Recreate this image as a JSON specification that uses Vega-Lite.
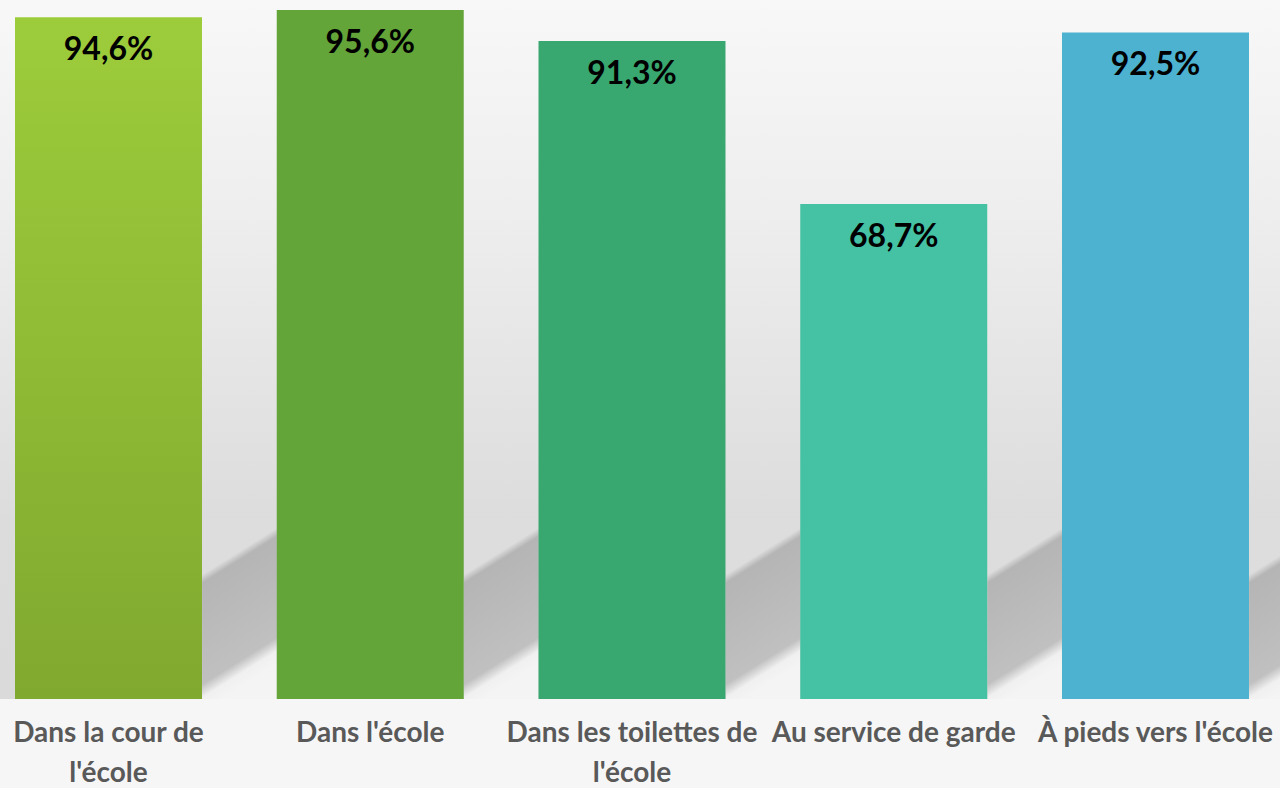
{
  "$schema": "https://vega.github.io/schema/vega-lite/v6.json",
  "width": 1280,
  "height": 699,
  "padding": {"left": 0, "top": 0, "right": 0, "bottom": 89},
  "autosize": {"type": "none"},
  "background": "#f6f6f6",
  "config": {
    "locale": {"number": {"decimal": ",", "thousands": " ", "grouping": [3], "currency": ["", " €"]}},
    "view": {"stroke": null}
  },
  "view": {
    "stroke": null,
    "fill": {
      "gradient": "linear", "x1": 0, "y1": 0, "x2": 0, "y2": 1,
      "stops": [
        {"offset": 0, "color": "#f8f8f8"},
        {"offset": 0.3, "color": "#eeeeee"},
        {"offset": 0.6, "color": "#e2e2e2"},
        {"offset": 0.75, "color": "#dcdcdc"},
        {"offset": 1, "color": "#dadada"}
      ]
    }
  },
  "data": {
    "values": [
      {"cat": "Dans la cour de|l'école", "v": 0.946},
      {"cat": "Dans l'école", "v": 0.956},
      {"cat": "Dans les toilettes de|l'école", "v": 0.913},
      {"cat": "Au service de garde", "v": 0.687},
      {"cat": "À pieds vers l'école", "v": 0.925}
    ]
  },
  "encoding": {
    "x": {
      "field": "cat", "type": "nominal", "sort": null,
      "scale": {"paddingInner": 0.2856, "paddingOuter": 0.0879, "align": 0.326},
      "axis": {
        "title": null, "ticks": false, "domain": false, "labelAngle": 0,
        "labelExpr": "split(datum.label, '|')",
        "labelFont": "Lato", "labelFontSize": 28, "labelFontWeight": "bold",
        "labelColor": "#595959", "labelLineHeight": 40, "labelPadding": 42,
        "labelBaseline": "alphabetic", "labelLimit": 0, "grid": false
      }
    }
  },
  "layer": [
    {
      "mark": {
        "type": "bar", "width": {"band": 0.4}, "xOffset": 131,
        "fill": {
          "gradient": "linear", "x1": 0, "y1": 0, "x2": 0.26, "y2": 1,
          "stops": [
            {"offset": 0, "color": "#dddddd"},
            {"offset": 0.29, "color": "#dddddd"},
            {"offset": 0.335, "color": "#b5b5b5"},
            {"offset": 0.86, "color": "#c0c0c0"},
            {"offset": 0.93, "color": "#f0f0f0"},
            {"offset": 1, "color": "#f4f4f4"}
          ]
        }
      },
      "encoding": {
        "y": {"datum": 0, "type": "quantitative", "scale": {"domain": [0, 0.97]}, "axis": null},
        "y2": {"datum": 0.25}
      }
    },
    {
      "mark": {"type": "bar"},
      "encoding": {
        "y": {"field": "v", "type": "quantitative", "scale": {"domain": [0, 0.97]}, "axis": null},
        "color": {
          "condition": {
            "test": "datum.cat == 'Dans la cour de|l\\'école'",
            "value": {
              "gradient": "linear", "x1": 0, "y1": 0, "x2": 0, "y2": 1,
              "stops": [
                {"offset": 0, "color": "#9dcc3b"},
                {"offset": 1, "color": "#80a92f"}
              ]
            }
          },
          "field": "cat", "type": "nominal", "sort": null, "legend": null,
          "scale": {"range": ["#9dcc3b", "#63a538", "#38a870", "#44c2a3", "#4cb2d0"]}
        }
      }
    },
    {
      "mark": {"type": "text", "baseline": "alphabetic", "dy": 43, "font": "Lato", "fontSize": 32, "fontWeight": "bold", "color": "#000000"},
      "encoding": {
        "y": {"field": "v", "type": "quantitative", "scale": {"domain": [0, 0.97]}, "axis": null},
        "text": {"field": "v", "type": "quantitative", "format": ".1%"}
      }
    }
  ]
}
